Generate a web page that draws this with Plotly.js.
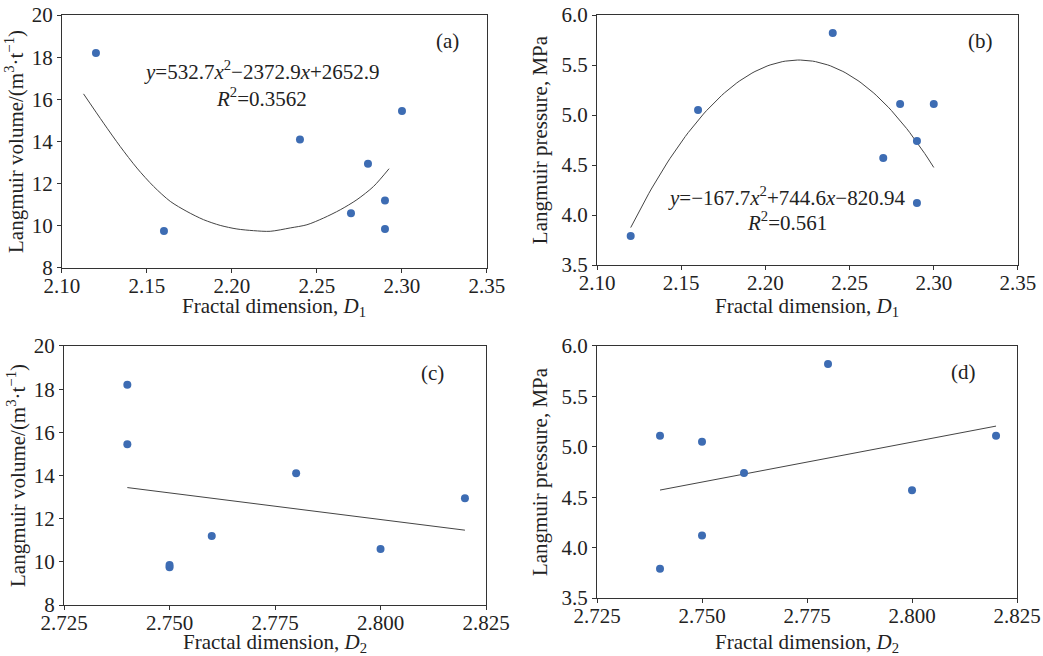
<!DOCTYPE html>
<html>
<head>
<meta charset="utf-8">
<script src="https://cdn.plot.ly/plotly-3.0.1.min.js"></script>
<style>html,body{margin:0;padding:0;background:#fff;}#chart{width:1043px;height:656px;}</style>
</head>
<body>
<div id="chart"></div>
<script>
// Sample data
const D1 = [2.12, 2.16, 2.24, 2.27, 2.28, 2.29, 2.29, 2.30];
const D2 = [2.74, 2.75, 2.78, 2.80, 2.82, 2.76, 2.75, 2.74];
const langmuirVolume = [18.2, 9.75, 14.1, 10.6, 12.95, 11.2, 9.85, 15.45];
const langmuirPressure = [3.79, 5.05, 5.82, 4.57, 5.11, 4.74, 4.12, 5.11];
// trend curve of panel (a), as drawn in the reference
const trendAx = [2.1127, 2.1245, 2.1343, 2.1441, 2.1539, 2.1637, 2.1735, 2.1833, 2.1931, 2.2029, 2.2127, 2.2225, 2.2343, 2.2441, 2.2539, 2.2637, 2.2735, 2.2833, 2.2924];
const trendAy = [16.26, 14.87, 13.76, 12.74, 11.87, 11.16, 10.68, 10.29, 10.02, 9.85, 9.77, 9.74, 9.90, 10.05, 10.37, 10.76, 11.24, 11.87, 12.71];
const panelLabels = ["(a)", "(b)", "(c)", "(d)"];
const fitTextA = ["<i>y</i>=532.7<i>x</i><sup>2</sup>−2372.9<i>x</i>+2652.9", "<i>R</i><sup>2</sup>=0.3562"];
const fitTextB = ["<i>y</i>=−167.7<i>x</i><sup>2</sup>+744.6<i>x</i>−820.94", "<i>R</i><sup>2</sup>=0.561"];
const xTitles = ["Fractal dimension, <i>D</i><sub>1</sub>", "Fractal dimension, <i>D</i><sub>2</sub>"];
const volTitle = 'Langmuir volume/(m<sup>3</sup>·t<sup>−1</sup>)';
const presTitle = 'Langmuir pressure, MPa';
const xTicksD1 = [2.10, 2.15, 2.20, 2.25, 2.30, 2.35];
const xTicksD2 = [2.725, 2.750, 2.775, 2.800, 2.825];

// least squares polynomial fit computed from the data
function polyfit(xs, ys, deg) {
  const n = deg + 1;
  const A = [];
  for (let i = 0; i < n; i++) { A.push(new Array(n + 1).fill(0)); }
  for (let k = 0; k < xs.length; k++) {
    for (let i = 0; i < n; i++) {
      for (let j = 0; j < n; j++) A[i][j] += Math.pow(xs[k], i + j);
      A[i][n] += ys[k] * Math.pow(xs[k], i);
    }
  }
  for (let i = 0; i < n; i++) {
    let p = i;
    for (let r = i + 1; r < n; r++) if (Math.abs(A[r][i]) > Math.abs(A[p][i])) p = r;
    [A[i], A[p]] = [A[p], A[i]];
    for (let r = 0; r < n; r++) {
      if (r === i) continue;
      const f = A[r][i] / A[i][i];
      for (let c = i; c <= n; c++) A[r][c] -= f * A[i][c];
    }
  }
  return A.map((row, i) => row[n] / row[i]);
}
function fitCurve(xs, ys, deg, steps) {
  const c = polyfit(xs, ys, deg);
  const lo = Math.min(...xs), hi = Math.max(...xs);
  const fx = [], fy = [];
  for (let s = 0; s <= steps; s++) {
    const x = lo + (hi - lo) * s / steps;
    let y = 0;
    for (let i = 0; i < c.length; i++) y += c[i] * Math.pow(x, i);
    fx.push(x); fy.push(y);
  }
  return {x: fx, y: fy};
}

const markerStyle = {color: '#3d6cb3', size: 8};
const lineStyle = {color: '#444', width: 1};
const fb = fitCurve(D1, langmuirPressure, 2, 100);
const fc = fitCurve(D2, langmuirVolume, 1, 10);
const fd = fitCurve(D2, langmuirPressure, 1, 10);

const traces = [
  {x: trendAx, y: trendAy, mode: 'lines', line: Object.assign({shape: 'spline', smoothing: 0.8}, lineStyle), xaxis: 'x', yaxis: 'y', hoverinfo: 'skip'},
  {x: D1, y: langmuirVolume, mode: 'markers', marker: markerStyle, xaxis: 'x', yaxis: 'y'},
  {x: fb.x, y: fb.y, mode: 'lines', line: lineStyle, xaxis: 'x2', yaxis: 'y2', hoverinfo: 'skip'},
  {x: D1, y: langmuirPressure, mode: 'markers', marker: markerStyle, xaxis: 'x2', yaxis: 'y2'},
  {x: fc.x, y: fc.y, mode: 'lines', line: lineStyle, xaxis: 'x3', yaxis: 'y3', hoverinfo: 'skip'},
  {x: D2, y: langmuirVolume, mode: 'markers', marker: markerStyle, xaxis: 'x3', yaxis: 'y3'},
  {x: fd.x, y: fd.y, mode: 'lines', line: lineStyle, xaxis: 'x4', yaxis: 'y4', hoverinfo: 'skip'},
  {x: D2, y: langmuirPressure, mode: 'markers', marker: markerStyle, xaxis: 'x4', yaxis: 'y4'}
];

const font = {family: '"Liberation Serif", "Times New Roman", serif', size: 21, color: '#222'};
function xAxis(domain, anchor, range, ticks, fmt) {
  return {
    domain: domain, anchor: anchor, range: range, tickvals: ticks,
    ticktext: ticks.map(t => t.toFixed(fmt)),
    showgrid: false, zeroline: false, showline: true, mirror: true,
    linecolor: '#333', linewidth: 1, ticks: 'outside', ticklen: 4, tickcolor: '#333',
    ticklabelstandoff: -5,
    tickfont: font
  };
}
function yAxis(domain, anchor, range, dtick, fmt, title, standoff) {
  return {
    domain: domain, anchor: anchor, range: range, dtick: dtick, tick0: range[0],
    tickformat: fmt,
    showgrid: false, zeroline: false, showline: true, mirror: true,
    linecolor: '#333', linewidth: 1, ticks: 'outside', ticklen: 4, tickcolor: '#333',
    tickfont: font,
    title: {text: title, font: font, standoff: standoff}
  };
}
const dA = [0.0594, 0.4669], dB = [0.5724, 0.9760], dC = [0.0614, 0.4660], dD = [0.5724, 0.9751];
const mid = d => (d[0] + d[1]) / 2;
function xTitle(d, ypx, text) {
  return {xref: 'paper', yref: 'paper', x: mid(d), y: 1 - ypx / 656, xanchor: 'center', yanchor: 'middle',
          text: text, showarrow: false, font: font};
}

const layout = {
  width: 1043, height: 656,
  margin: {l: 0, r: 0, t: 0, b: 0},
  paper_bgcolor: '#fff', plot_bgcolor: '#fff',
  showlegend: false,
  font: font,
  xaxis: xAxis(dA, 'y', [2.10, 2.35], xTicksD1, 2),
  yaxis: yAxis([0.5915, 0.9771], 'x', [8, 20], 2, 'd', volTitle, 2),
  xaxis2: xAxis(dB, 'y2', [2.10, 2.35], xTicksD1, 2),
  yaxis2: yAxis([0.5960, 0.9771], 'x2', [3.5, 6.0], 0.5, '.1f', presTitle, 8),
  xaxis3: xAxis(dC, 'y3', [2.725, 2.825], xTicksD2, 3),
  yaxis3: yAxis([0.0777, 0.4726], 'x3', [8, 20], 2, 'd', volTitle, 2),
  xaxis4: xAxis(dD, 'y4', [2.725, 2.825], xTicksD2, 3),
  yaxis4: yAxis([0.0884, 0.4726], 'x4', [3.5, 6.0], 0.5, '.1f', presTitle, 8),
  annotations: [
    {xref: 'x', yref: 'y', x: 2.3268, y: 18.78, text: panelLabels[0], showarrow: false, font: font},
    {xref: 'x2', yref: 'y2', x: 2.3275, y: 5.74, text: panelLabels[1], showarrow: false, font: font},
    {xref: 'x3', yref: 'y3', x: 2.8123, y: 18.75, text: panelLabels[2], showarrow: false, font: font},
    {xref: 'x4', yref: 'y4', x: 2.8122, y: 5.74, text: panelLabels[3], showarrow: false, font: font},
    {xref: 'x', yref: 'y', x: 2.2176, y: 17.39, text: fitTextA[0], showarrow: false, font: font},
    {xref: 'x', yref: 'y', x: 2.2176, y: 16.11, text: fitTextA[1], showarrow: false, font: font},
    {xref: 'x2', yref: 'y2', x: 2.2128, y: 4.19, text: fitTextB[0], showarrow: false, font: font},
    {xref: 'x2', yref: 'y2', x: 2.2128, y: 3.94, text: fitTextB[1], showarrow: false, font: font},
    xTitle(dA, 307, xTitles[0]),
    xTitle(dB, 307, xTitles[0]),
    xTitle(dC, 643, xTitles[1]),
    xTitle(dD, 643, xTitles[1])
  ]
};

Plotly.newPlot('chart', traces, layout, {displayModeBar: false, staticPlot: true});
</script>
</body>
</html>
